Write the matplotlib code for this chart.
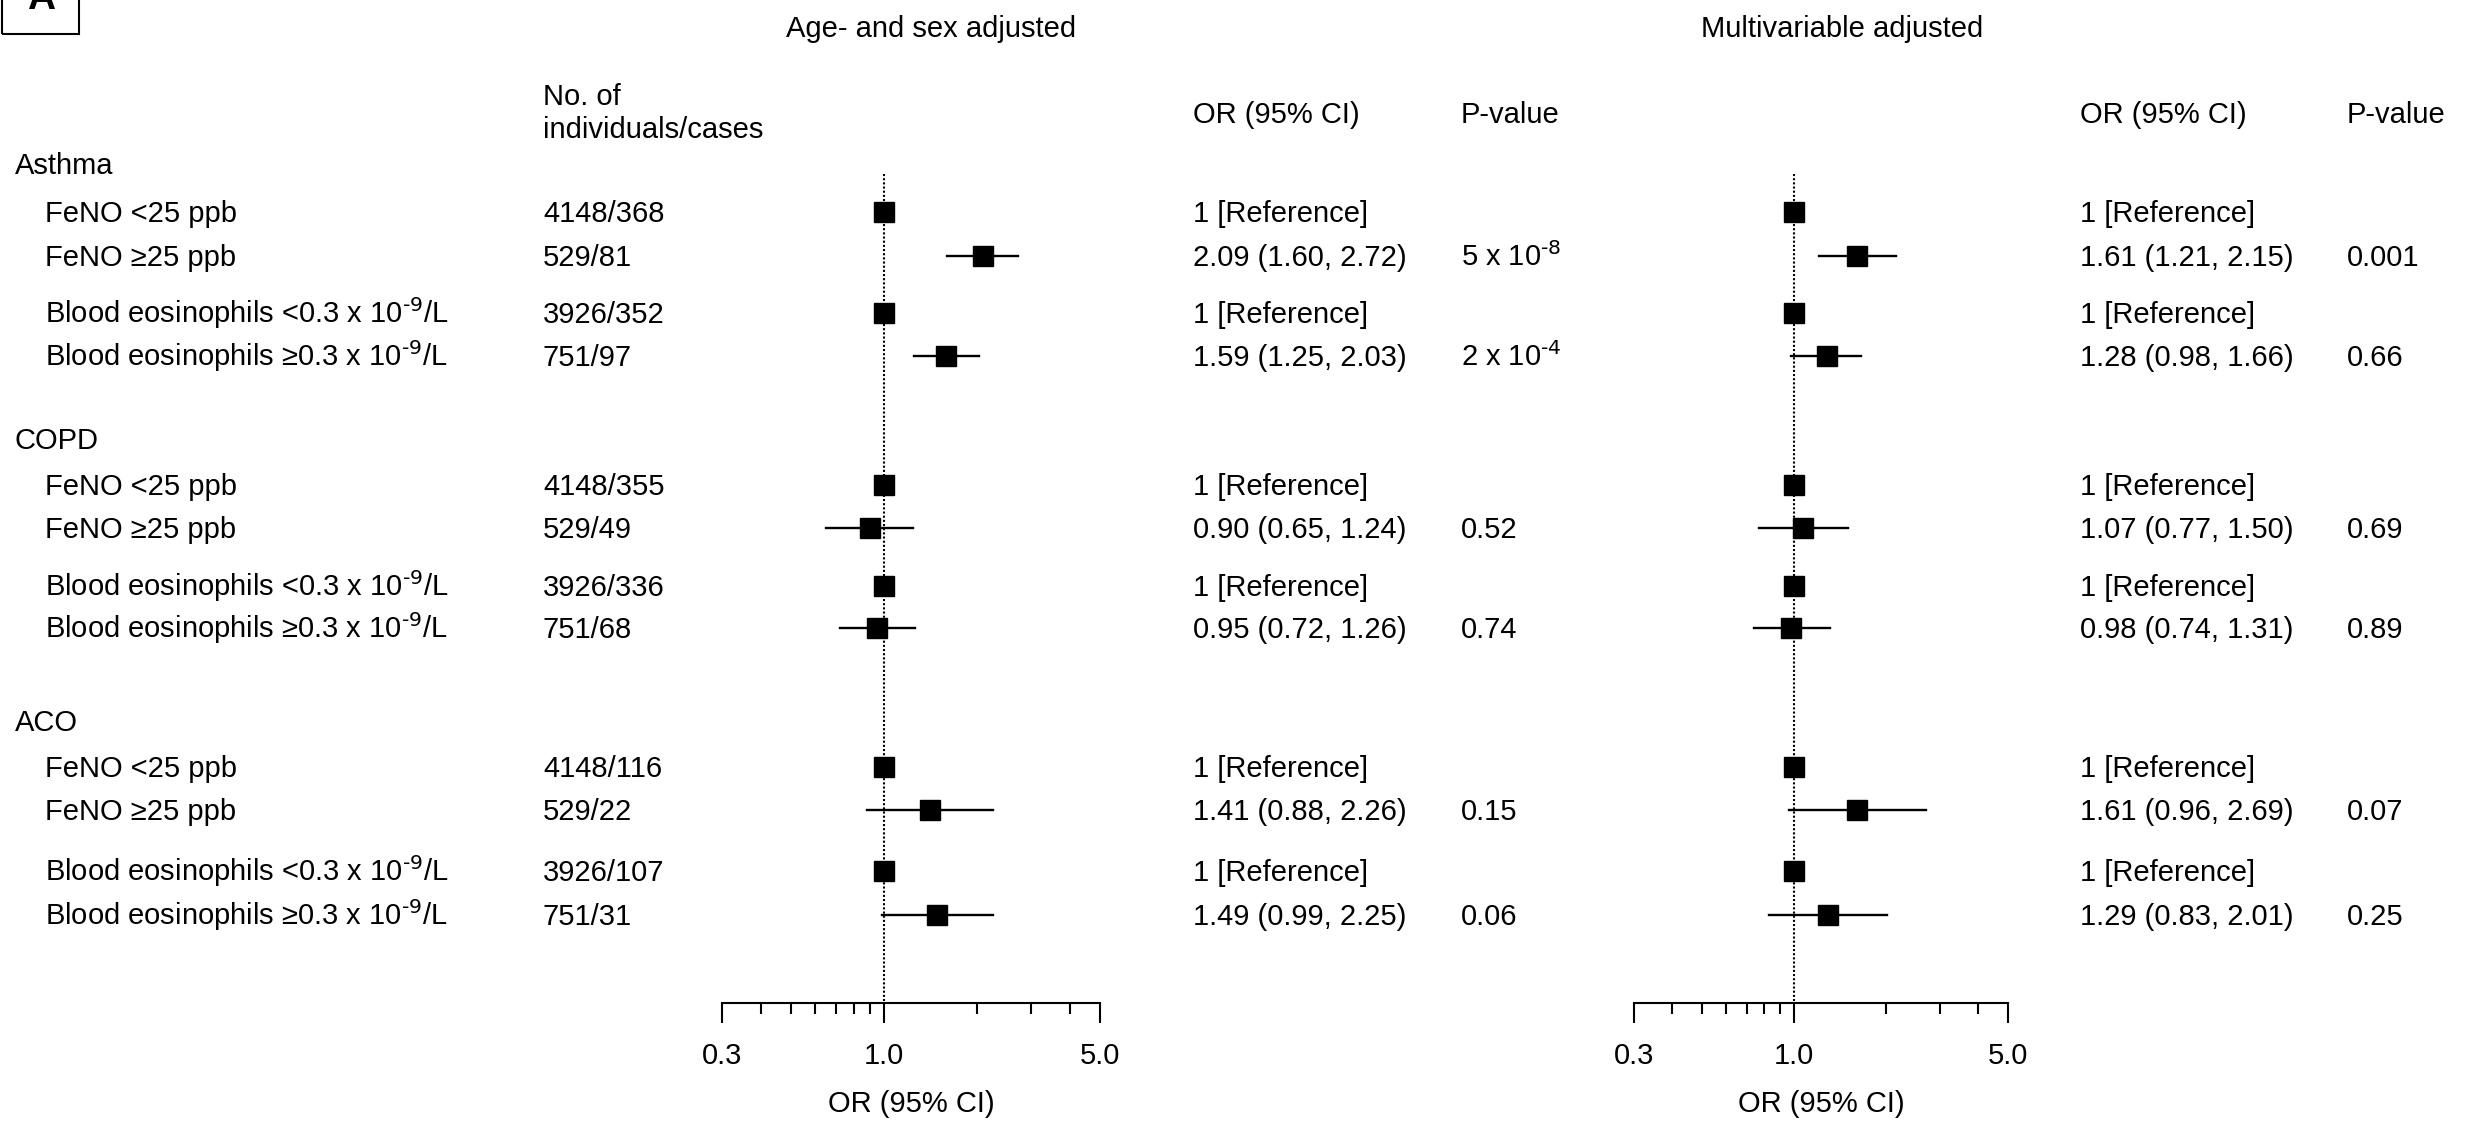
import numpy as np
import matplotlib
matplotlib.use('Agg')
from matplotlib import pyplot as plt
from matplotlib.patches import Rectangle
from matplotlib.ticker import FixedLocator, NullFormatter

plt.rcParams['font.family'] = ['Liberation Sans', 'DejaVu Sans']
plt.rcParams['mathtext.default'] = 'regular'
FS = 21

# data
categories = ['Asthma', 'COPD', 'ACO']
sublabels = ['FeNO <25 ppb', 'FeNO \u226525 ppb',
             'Blood eosinophils <0.3 x 10$^{\\text{-9}}$/L',
             'Blood eosinophils \u22650.3 x 10$^{\\text{-9}}$/L']
counts = ['4148/368', '529/81', '3926/352', '751/97',
          '4148/355', '529/49', '3926/336', '751/68',
          '4148/116', '529/22', '3926/107', '751/31']
nan = np.nan
or_age = [1, 2.09, 1, 1.59, 1, 0.90, 1, 0.95, 1, 1.41, 1, 1.49]
lo_age = [nan, 1.60, nan, 1.25, nan, 0.65, nan, 0.72, nan, 0.88, nan, 0.99]
hi_age = [nan, 2.72, nan, 2.03, nan, 1.24, nan, 1.26, nan, 2.26, nan, 2.25]
p_age = ['', '5 x 10$^{\\text{-8}}$', '', '2 x 10$^{\\text{-4}}$', '', '0.52', '', '0.74', '', '0.15', '', '0.06']
or_mv = [1, 1.61, 1, 1.28, 1, 1.07, 1, 0.98, 1, 1.61, 1, 1.29]
lo_mv = [nan, 1.21, nan, 0.98, nan, 0.77, nan, 0.74, nan, 0.96, nan, 0.83]
hi_mv = [nan, 2.15, nan, 1.66, nan, 1.50, nan, 1.31, nan, 2.69, nan, 2.01]
p_mv = ['', '0.001', '', '0.66', '', '0.69', '', '0.89', '', '0.07', '', '0.25']

# layout (pixels from top-left)
W, H = 2475, 1128
cat_y = [164, 439, 721]
row_y = [212, 256, 313, 356, 485, 528, 586, 628, 767, 810, 871, 915]
axis_y = 1003
BL = 10  # baseline offset from row centre

fig = plt.figure(figsize=(W / 100, H / 100), dpi=100)


def txt(x, y, s, **kw):
    fig.text(x / W, 1 - y / H, s, fontsize=kw.pop('fontsize', FS), va='baseline', **kw)


def fmt_or(o, l, h):
    if np.isnan(l):
        return '1 [Reference]'
    return f'{o:.2f} ({l:.2f}, {h:.2f})'


def forest(x0, x1, ors, los, his):
    ax = fig.add_axes([x0 / W, 1 - axis_y / H, (x1 - x0) / W, axis_y / H])
    ax.set_xscale('log')
    ax.set_xlim(0.3, 5.0)
    ax.set_ylim(axis_y, 0)
    for s in ['left', 'right', 'top']:
        ax.spines[s].set_visible(False)
    ax.spines['bottom'].set_linewidth(1.5)
    ax.set_yticks([])
    ax.xaxis.set_major_locator(FixedLocator([0.3, 1.0, 5.0]))
    ax.xaxis.set_minor_locator(FixedLocator([0.4, 0.5, 0.6, 0.7, 0.8, 0.9, 2, 3, 4]))
    ax.xaxis.set_minor_formatter(NullFormatter())
    ax.set_xticklabels(['0.3', '1.0', '5.0'])
    ax.tick_params(axis='x', which='major', length=14.4, width=1.5, pad=14, labelsize=FS)
    ax.tick_params(axis='x', which='minor', length=8, width=1.5)
    ax.set_xlabel('OR (95% CI)', fontsize=FS, labelpad=14)
    ax.plot([1, 1], [174, axis_y], color='black', lw=1.5, ls=(0, (1, 1)), zorder=1)
    for y, o, l, h in zip(row_y, ors, los, his):
        if not np.isnan(l):
            ax.plot([l, h], [y, y], color='black', lw=1.7, zorder=2)
        ax.plot([o], [y], marker='s', ms=13.7, color='black', zorder=3)
    ax.patch.set_alpha(0)
    return ax


forest(722, 1100, or_age, lo_age, hi_age)
forest(1634, 2008, or_mv, lo_mv, hi_mv)

# panel letter (cut by the top edge, as in the source figure)
fig.patches.append(Rectangle((2 / W, 1 - 34 / H), 77 / W, 80 / H, transform=fig.transFigure,
                             fill=False, lw=1.5, ec='black', clip_on=False))
txt(41, 9, 'A', fontsize=28, fontweight='bold', ha='center')

# headers
txt(931, 37, 'Age- and sex adjusted', ha='center')
txt(1842, 37, 'Multivariable adjusted', ha='center')
txt(543, 105, 'No. of')
txt(543, 138, 'individuals/cases')
txt(1193, 123, 'OR (95% CI)')
txt(1461, 123, 'P-value')
txt(2080, 123, 'OR (95% CI)')
txt(2347, 123, 'P-value')

for c, y in zip(categories, cat_y):
    txt(15, y + BL, c)

for i, y in enumerate(row_y):
    txt(45, y + BL, sublabels[i % 4])
    txt(543, y + BL, counts[i])
    txt(1193, y + BL, fmt_or(or_age[i], lo_age[i], hi_age[i]))
    txt(1461, y + BL, p_age[i])
    txt(2080, y + BL, fmt_or(or_mv[i], lo_mv[i], hi_mv[i]))
    txt(2347, y + BL, p_mv[i])

fig.savefig('out.png', dpi=100)
